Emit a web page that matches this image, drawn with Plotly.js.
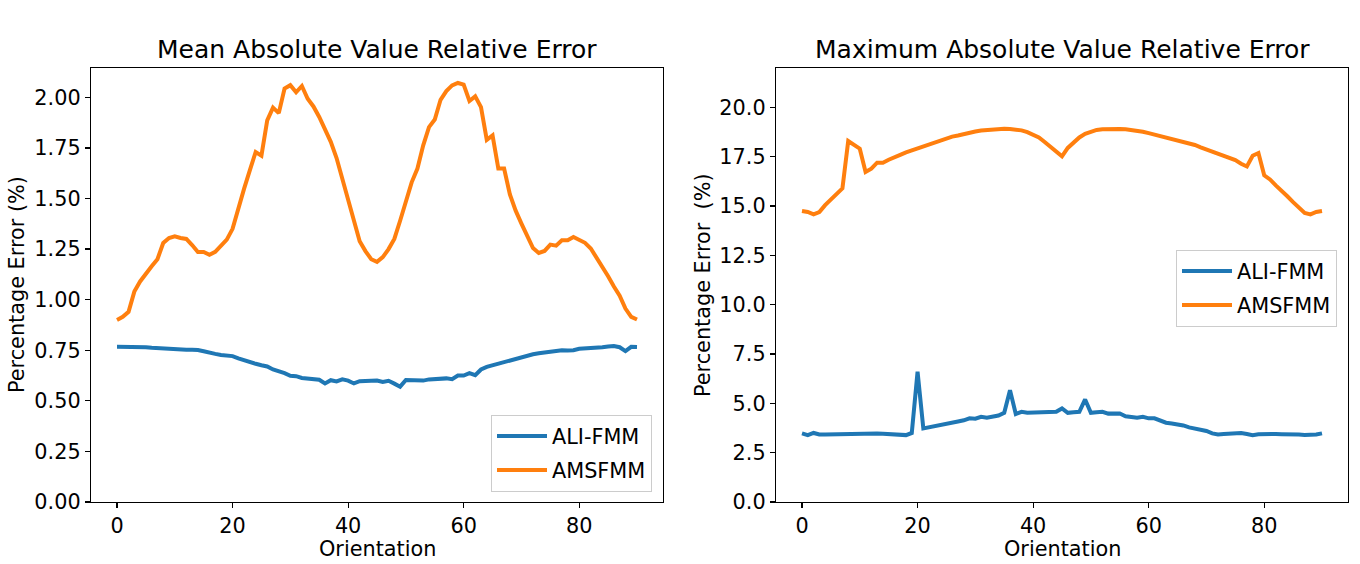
<!DOCTYPE html>
<html>
<head>
<meta charset="utf-8">
<script src="https://cdn.plot.ly/plotly-3.0.1.min.js"></script>
<style>html,body{margin:0;padding:0;background:#fff;}#chart{width:1360px;height:564px;}</style>
</head>
<body>
<div id="chart"></div>
<script>
// Orientation values (degrees)
const orientation = [0,1,2,3,4,5,6,7,8,9,10,11,12,13,14,15,16,17,18,19,20,21,22,23,24,25,26,27,28,29,30,31,32,33,34,35,36,37,38,39,40,41,42,43,44,45,46,47,48,49,50,51,52,53,54,55,56,57,58,59,60,61,62,63,64,65,66,67,68,69,70,71,72,73,74,75,76,77,78,79,80,81,82,83,84,85,86,87,88,89,90];

// Mean absolute value relative error (%)
const meanALI = [0.767,0.767,0.768,0.764,0.767,0.765,0.762,0.760,0.758,0.757,0.757,0.751,0.752,0.752,0.751,0.745,0.741,0.732,0.727,0.724,0.721,0.710,0.700,0.690,0.683,0.676,0.670,0.655,0.648,0.637,0.624,0.622,0.613,0.610,0.607,0.604,0.586,0.602,0.596,0.606,0.600,0.586,0.597,0.598,0.601,0.600,0.593,0.599,0.585,0.570,0.603,0.603,0.603,0.600,0.606,0.608,0.611,0.611,0.607,0.625,0.625,0.637,0.627,0.655,0.668,0.676,0.686,0.690,0.703,0.711,0.719,0.722,0.730,0.735,0.740,0.745,0.750,0.750,0.749,0.750,0.757,0.758,0.760,0.763,0.765,0.768,0.771,0.765,0.746,0.767,0.766];
const meanAMS = [0.90,0.915,0.94,1.04,1.09,1.13,1.165,1.20,1.28,1.305,1.313,1.305,1.30,1.27,1.236,1.236,1.222,1.236,1.267,1.297,1.35,1.458,1.549,1.64,1.73,1.712,1.886,1.949,1.922,2.043,2.06,2.025,2.056,1.993,1.955,1.903,1.84,1.78,1.70,1.60,1.50,1.39,1.289,1.24,1.20,1.187,1.21,1.25,1.30,1.39,1.49,1.58,1.648,1.763,1.853,1.89,1.988,2.031,2.059,2.071,2.063,1.982,2.005,1.952,1.79,1.812,1.648,1.648,1.52,1.44,1.376,1.31,1.255,1.231,1.241,1.272,1.267,1.294,1.294,1.31,1.295,1.281,1.253,1.21,1.16,1.116,1.065,1.02,0.956,0.915,0.902];

// Maximum absolute value relative error (%)
const maxALI = [3.48,3.39,3.50,3.42,3.42,3.43,3.43,3.43,3.44,3.44,3.45,3.46,3.48,3.47,3.46,3.45,3.45,3.42,3.39,3.50,6.60,3.73,3.78,3.84,3.92,3.98,4.03,4.08,4.14,4.24,4.22,4.32,4.27,4.33,4.38,4.52,5.67,4.46,4.57,4.52,4.53,4.55,4.55,4.52,4.57,4.74,4.52,4.55,4.57,5.20,4.52,4.55,4.57,4.48,4.46,4.49,4.35,4.30,4.27,4.32,4.24,4.24,4.12,4.02,3.98,3.95,3.88,3.78,3.72,3.67,3.60,3.48,3.42,3.45,3.48,3.48,3.50,3.45,3.39,3.43,3.45,3.45,3.45,3.44,3.45,3.44,3.42,3.40,3.39,3.42,3.48];
const maxAMS = [14.75,14.70,14.58,14.70,15.05,15.35,15.65,15.90,18.30,18.10,17.91,16.73,16.90,17.20,17.20,17.35,17.50,17.60,17.72,17.82,17.95,18.05,18.16,18.23,18.35,18.43,18.52,18.58,18.66,18.72,18.78,18.83,18.86,18.89,18.91,18.92,18.91,18.88,18.84,18.75,18.63,18.48,18.25,17.99,17.75,17.52,17.95,18.25,18.48,18.66,18.78,18.86,18.90,18.92,18.92,18.91,18.89,18.86,18.82,18.77,18.70,18.63,18.56,18.48,18.41,18.33,18.25,18.17,18.10,17.98,17.88,17.78,17.67,17.55,17.44,17.33,17.15,17.01,17.55,17.69,16.56,16.35,16.05,15.80,15.50,15.20,14.90,14.65,14.58,14.70,14.75];

const seriesNames = ["ALI-FMM", "AMSFMM"];
const titles = ["Mean Absolute Value Relative Error", "Maximum Absolute Value Relative Error"];
const xLabel = "Orientation";
const yLabels = ["Percentage Error (%)", "Percentage Error\u00a0 (%)"];

const BLUE = "#1f77b4", ORANGE = "#ff7f0e";
const FONT = "DejaVu Sans";
const FS = 20.8;
const W = 1360, H = 564;

const traces = [
  {x: orientation, y: meanALI, name: seriesNames[0], type: "scatter", mode: "lines", line: {color: BLUE, width: 4}, xaxis: "x", yaxis: "y", legend: "legend", legendgroup: "L1"},
  {x: orientation, y: meanAMS, name: seriesNames[1], type: "scatter", mode: "lines", line: {color: ORANGE, width: 4}, xaxis: "x", yaxis: "y", legend: "legend", legendgroup: "L2"},
  {x: orientation, y: maxALI, name: seriesNames[0], type: "scatter", mode: "lines", line: {color: BLUE, width: 4}, xaxis: "x2", yaxis: "y2", legend: "legend2", legendgroup: "R1"},
  {x: orientation, y: maxAMS, name: seriesNames[1], type: "scatter", mode: "lines", line: {color: ORANGE, width: 4}, xaxis: "x2", yaxis: "y2", legend: "legend2", legendgroup: "R2"}
];

function ax(extra) {
  return Object.assign({
    showline: true, mirror: true, linecolor: "#000", linewidth: 1.2,
    ticks: "outside", ticklen: 5, tickwidth: 1.2, tickcolor: "#000",
    showgrid: false, zeroline: false,
    tickfont: {family: FONT, size: FS, color: "#000"}
  }, extra);
}

function leg(extra) {
  return Object.assign({
    bgcolor: "#fff", bordercolor: "#cccccc", borderwidth: 1,
    font: {family: FONT, size: FS, color: "#000"},
    itemwidth: 50, tracegroupgap: 4, traceorder: "grouped"
  }, extra);
}

const yDom = [(H - 502) / H, (H - 68) / H];
const layout = {
  width: W, height: H,
  margin: {l: 0, r: 0, t: 0, b: 0},
  paper_bgcolor: "#fff", plot_bgcolor: "#fff",
  font: {family: FONT, size: FS, color: "#000"},
  showlegend: true,
  xaxis: ax({domain: [91 / W, 663 / W], range: [-4.5, 94.5], tick0: 0, dtick: 20, anchor: "y"}),
  yaxis: ax({domain: yDom, range: [0, 2.145], tick0: 0, dtick: 0.25, tickformat: ".2f", anchor: "x"}),
  xaxis2: ax({domain: [776 / W, 1348 / W], range: [-4.5, 94.5], tick0: 0, dtick: 20, anchor: "y2"}),
  yaxis2: ax({domain: yDom, range: [0, 22], tick0: 0, dtick: 2.5, tickformat: ".1f", anchor: "x2"}),
  legend: leg({x: 652 / W, xanchor: "right", y: (H - 492) / H, yanchor: "bottom"}),
  legend2: leg({x: 1337 / W, xanchor: "right", y: (H - 250) / H, yanchor: "top"}),
  annotations: [
    {text: titles[0], xref: "paper", yref: "paper", x: 377 / W, y: (H - 50) / H, xanchor: "center", yanchor: "middle", showarrow: false, font: {family: FONT, size: 25, color: "#000"}},
    {text: titles[1], xref: "paper", yref: "paper", x: 1062 / W, y: (H - 50) / H, xanchor: "center", yanchor: "middle", showarrow: false, font: {family: FONT, size: 25, color: "#000"}},
    {text: xLabel, xref: "paper", yref: "paper", x: 377 / W, y: (H - 549) / H, xanchor: "center", yanchor: "middle", showarrow: false, font: {family: FONT, size: FS, color: "#000"}},
    {text: xLabel, xref: "paper", yref: "paper", x: 1062 / W, y: (H - 549) / H, xanchor: "center", yanchor: "middle", showarrow: false, font: {family: FONT, size: FS, color: "#000"}},
    {text: yLabels[0], xref: "paper", yref: "paper", x: 17 / W, y: (H - 285) / H, xanchor: "center", yanchor: "middle", textangle: -90, showarrow: false, font: {family: FONT, size: FS, color: "#000"}},
    {text: yLabels[1], xref: "paper", yref: "paper", x: 703 / W, y: (H - 285) / H, xanchor: "center", yanchor: "middle", textangle: -90, showarrow: false, font: {family: FONT, size: FS, color: "#000"}}
  ]
};

Plotly.newPlot("chart", traces, layout, {staticPlot: true, displayModeBar: false});
</script>
</body>
</html>
